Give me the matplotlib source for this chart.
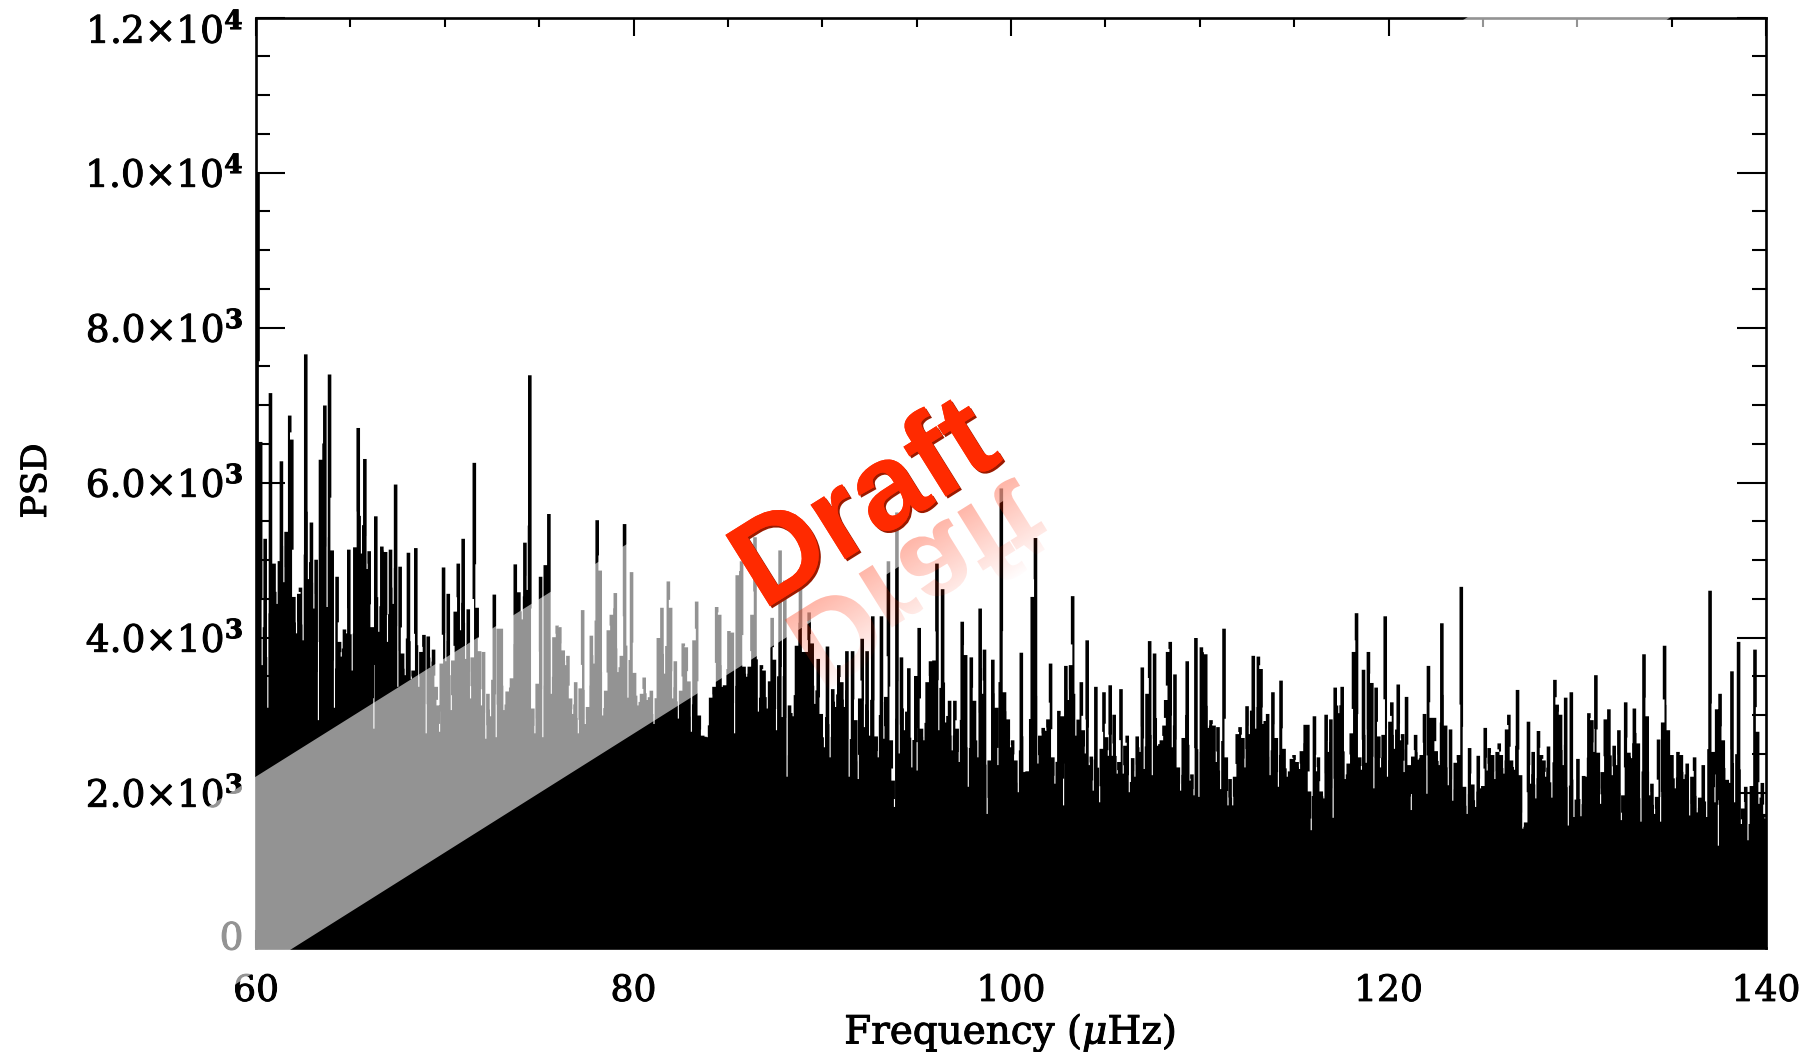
#--------------------------------- LIBRARY ---------------------------------
import numpy as np
import matplotlib
matplotlib.use('Agg')
import matplotlib.pyplot as plt
import matplotlib.patheffects as pe
from matplotlib.font_manager import FontProperties
from matplotlib.patches import PathPatch, Polygon
from matplotlib.textpath import TextPath
from matplotlib.transforms import Affine2D, ScaledTranslation

plt.rcParams['font.family'] = ['DejaVu Serif']
plt.rcParams['mathtext.fontset'] = 'dejavuserif'

#--------------------------------- DATA --------------
freq_1 = [60.08,60.22,60.30,60.46,60.60,60.74,60.93,61.09,61.32,61.45,61.57,61.76,61.87,61.98,62.12,62.24,62.33,62.47,62.61,62.75,
          62.91,63.04,63.16,63.28,63.39,63.62,63.74,63.87,64.01,64.13,64.27,64.40,64.49,64.66,64.77,64.89,65.07,65.21,65.39,65.56,
          65.74,65.86,65.97,66.13,66.22,66.32,66.48,66.64,66.84,66.94,67.10,67.24,67.37,67.49,67.61,67.74,67.88,68.05,68.20,68.30,
          68.44,68.60,68.71,68.87,68.99,69.10,69.24,69.38,69.52,69.63,69.70,69.79,69.91,70.03,70.16,70.32,70.40,70.53,70.69,70.81,
          70.95,71.08,71.22,71.34,71.43,71.54,71.69,71.82,71.92,72.03,72.15,72.26,72.40,72.60,72.70,72.81,72.97,73.11,73.28]
psd_1 = [10000,6530,3650,5280,3100,7160,4960,4440,6280,4720,5370,6870,6560,4530,4060,4570,4650,3970,7660,4760,
         5490,4380,5010,2940,6300,7000,4400,7400,5130,3100,4790,3950,3760,4110,4060,5140,3580,5170,6710,5090,
         6310,4890,5120,4140,2830,5570,4080,5180,5110,3950,5140,4440,5980,3370,4920,3800,3520,5100,3470,3580,
         5160,3370,3820,4040,2770,4020,3630,3850,3370,3130,2790,3670,4910,3700,4570,3070,3710,4340,4960,4100,
         5280,3730,4370,3220,3750,6260,4390,3830,3130,3820,2700,3280,2990,4560,2720,4120,4120,3070,3310]

freq_2 = [73.51,73.71,73.90,74.08,74.22,74.34,74.48,74.64,74.75,74.87,75.05,75.17,75.30,75.49,75.62,75.76,75.93,76.07,76.25,76.38,
          76.50,76.64,76.75,76.91,77.05,77.15,77.28,77.42,77.54,77.74,77.88,78.05,78.21,78.34,78.50,78.64,78.80,79.01,79.15,79.33,
          79.50,79.68,79.87,80.03,80.21,80.40,80.54,80.70,80.92,81.06,81.29,81.48,81.62,81.82,81.94,82.05,82.19,82.35,82.47,82.61,
          82.77,82.91,83.04,83.18,83.32,83.46,83.64,83.88,84.06,84.24,84.38,84.54,84.68,84.80,85.03,85.21,85.33,85.47,85.70,85.83,
          85.97,86.11,86.25,86.41,86.59,86.75,86.89,87.06]
psd_2 = [3480,4950,4590,4240,5230,4620,7390,3090,2770,3410,4790,2720,4940,5600,3280,4010,4160,4140,3840,3650,
         3770,3220,3020,3430,2770,3350,4360,2890,3110,4030,3670,5520,4870,3000,3320,4100,4300,4580,3560,3770,
         5470,3230,4850,3550,3130,3280,3490,3200,3320,2890,4000,4390,3540,4730,4390,3220,3700,2960,3320,3930,
         3880,3440,2790,3970,4470,3000,2740,2720,3230,3370,4400,4300,3370,3390,4090,4070,2770,4810,4990,3630,
         3500,3630,4300,5300,3050,3650,3580,3090]

freq_3 = [87.32,87.44,87.55,87.74,87.85,87.99,88.11,88.24,88.43,88.61,88.82,88.99,89.12,89.28,89.44,89.58,89.76,89.92,90.09,90.25,
          90.39,90.53,90.68,90.85,91.01,91.15,91.28,91.40,91.58,91.75,91.88,91.96,92.09,92.21,92.35,92.48,92.65,92.83,92.94,93.11,
          93.24,93.34,93.48,93.63,93.73,93.80,93.93,94.05,94.17,94.33,94.56,94.72,94.93,95.00,95.11,95.23,95.36,95.53,95.71,95.89,
          96.05,96.15,96.35,96.51,96.72,96.86,97.00,97.12,97.23,97.39,97.57,97.71,97.87,98.04,98.22,98.34,98.47,98.57,98.71,98.82,
          99.01,99.21,99.28,99.46,99.63,99.83,99.95,100.06,100.23,100.36,100.52,100.66,100.83]
psd_3 = [4260,3720,2810,5130,2980,4740,2210,3130,2990,3900,4890,3820,3820,4330,3930,3150,3730,3020,2590,3890,
         2460,3340,3110,3650,3430,3110,3830,2210,3830,2940,2180,3220,3990,2850,3830,2740,4280,2730,2460,4280,
         2700,3240,4990,2680,2160,1820,5620,2510,3750,2810,3610,2330,3510,2290,4130,2830,2680,3430,3700,3710,
         4960,2810,4630,2910,3190,2550,3190,2830,2400,4210,3780,2080,3750,3190,2460,4380,3280,3850,1730,2420,
         3720,3100,2360,5930,3300,2950,2590,2680,2420,2010,3810,2270,2280]

freq_4 = [101.10,101.27,101.40,101.50,101.68,101.82,101.93,102.07,102.19,102.30,102.51,102.69,102.76,102.88,103.01,103.13,103.24,103.41,103.70,103.80,
          103.91,104.01,104.12,104.23,104.33,104.47,104.67,104.76,104.90,105.04,105.13,105.23,105.34,105.44,105.60,105.69,105.80,105.92,106.01,106.13,
          106.24,106.42,106.54,106.66,106.81,106.93,107.03,107.18,107.32,107.46,107.58,107.74,107.94,108.08,108.17,108.27,108.41,108.52,108.66,108.84,
          108.96,109.10,109.31,109.46,109.56,109.67,109.77,109.93,110.06,110.29,110.43,110.57,110.73,110.85,110.94,111.08,111.26,111.38,111.47,111.58,
          111.72,111.82,111.96,112.11,112.26,112.37,112.48,112.60,112.81,112.94,113.08,113.22,113.32,113.57,113.70,113.85,114.03,114.14,114.28,114.44,114.61]
psd_4 = [4530,5290,2380,2740,2840,2800,2950,3670,2460,2120,3060,2990,1840,3640,3200,3650,4540,2740,3430,2810,
         2510,3970,2360,2470,2030,3370,1880,2570,3300,2720,2480,3390,2480,3010,2250,2400,3340,2250,2610,2740,
         2010,2450,2210,2730,2530,3620,2310,3280,3960,2230,3800,2610,2680,2870,3200,3820,3950,2590,3530,2330,
         2030,2710,3700,2160,2240,1970,4000,1950,3880,3790,2840,2940,2870,2400,2850,2050,4120,2460,1840,2180,
         1840,2210,2760,2850,2710,2330,3120,2760,3770,2830,3760,3600,2890,3020,2230,3300,2710,2080,3450,2570,2210]

freq_5 = [114.83,114.97,115.13,115.26,115.36,115.56,115.70,115.79,115.88,116.05,116.16,116.26,116.41,116.55,116.67,116.79,116.92,117.04,117.15,117.34,
          117.52,117.68,117.84,118.00,118.12,118.28,118.45,118.54,118.65,118.79,118.91,119.09,119.20,119.32,119.46,119.55,119.69,119.80,119.92,120.05,
          120.15,120.29,120.49,120.61,120.72,120.80,120.93,121.07,121.18,121.26,121.41,121.55,121.71,121.88,122.01,122.09,122.24,122.41,122.50,122.66,
          122.80,123.00,123.14,123.26,123.38,123.51,123.68,123.83,124.00,124.14,124.27,124.44,124.59,124.73,124.85,124.97,125.10,125.20,125.31,125.49,
          125.61,125.73,125.84,125.95,126.09,126.23,126.35,126.49,126.65,126.81,126.97,127.09,127.24,127.39]
psd_5 = [2440,2490,2400,2310,2540,2880,2880,2020,1520,2990,2280,2460,2020,1930,3010,2530,2950,1680,3360,3030,
         3370,2180,2380,2770,3820,4320,2460,2300,3590,2390,3820,3420,2060,3360,2730,2330,2750,4280,2210,2920,
         3170,2570,3400,2680,2760,2270,3240,2360,1780,2470,2750,2430,2490,3020,1990,3640,2970,2970,2540,2360,
         4190,2870,2100,2820,1900,2390,2490,4660,2080,1730,2580,2110,1820,2480,2060,2090,2840,2290,2580,2490,
         2180,2530,2640,2490,2250,2820,3010,2420,2300,3330,2230,1540,1620,2920]

freq_6 = [127.50,127.64,127.78,127.92,128.08,128.21,128.30,128.45,128.63,128.79,128.91,129.09,129.23,129.36,129.50,129.66,129.80,130.01,130.17,130.31,
          130.45,130.59,130.75,130.86,130.96,131.09,131.21,131.30,131.46,131.65,131.83,131.93,132.06,132.18,132.31,132.39,132.54,132.71,132.85,133.00,
          133.21,133.35,133.51,133.68,133.81,133.93,134.07,134.18,134.28,134.39,134.50,134.60,134.80,134.99,135.17,135.31,135.49,135.63,135.80,135.93,
          136.05,136.19,136.33,136.46,136.65,136.83,137.01,137.18,137.27,137.36,137.45,137.54,137.71,137.92,138.05,138.17,138.31,138.52,138.67,138.74,
          138.90,139.02,139.20,139.39,139.53,139.60,139.78,139.92,139.99]
psd_6 = [2120,2530,1930,2800,2490,2420,2210,2600,1940,3460,3140,3010,2360,3230,1580,3300,1690,2440,1700,2220,
         2210,3030,2940,2530,3520,2520,1860,2270,2950,3080,2230,2610,2360,2810,1650,1970,3170,2520,2450,3090,
         2640,1630,3790,2990,1970,2120,1730,1950,2690,1630,2910,3900,2810,2490,2060,2530,2490,2180,2380,1710,
         2210,2460,1750,1940,2360,1690,4610,2530,1880,3080,1320,3280,2680,2170,2130,3570,1880,3950,1600,1800,
         2080,1390,2090,3850,2790,1860,2130,1730,1670]

freq = np.array(freq_1 + freq_2 + freq_3 + freq_4 + freq_5 + freq_6)
psd = np.array(psd_1 + psd_2 + psd_3 + psd_4 + psd_5 + psd_6, dtype=float)

x_ticks = [60, 80, 100, 120, 140]
y_ticks = [0, 2000, 4000, 6000, 8000, 10000, 12000]
y_labels = ['0', r'2.0$\times$10$^{\mathbf{3}}$', r'4.0$\times$10$^{\mathbf{3}}$', r'6.0$\times$10$^{\mathbf{3}}$',
            r'8.0$\times$10$^{\mathbf{3}}$', r'1.0$\times$10$^{\mathbf{4}}$', r'1.2$\times$10$^{\mathbf{4}}$']

#--------------------------------- FUNCTION --------------------------------
# spikes are about 3 px wide, the dips only 1 px, gaps sit just above the lower neighbour
def spectrum_outline(f, p, w_peak=0.095, w_dip=0.03, shoulder=0.3):
    xs, ys = [], []
    for i in range(len(f)):
        left = p[i - 1] if i > 0 else 0
        right = p[i + 1] if i < len(f) - 1 else 0
        w = w_dip if (p[i] < left and p[i] < right) else w_peak
        low, high = min(p[i], right), max(p[i], right)
        xs += [f[i] - w, f[i] + w]
        ys += [p[i], low + shoulder * (high - low)]
    return np.array(xs), np.array(ys)

#--------------------------------- MAIN ------------------------------------
W, H = 1816, 1052
fig = plt.figure(figsize=(W / 100, H / 100), dpi=100, facecolor='white')
ax = fig.add_axes([256 / W, 1 - 947.5 / H, 1510 / W, 930 / H])

xs, ys = spectrum_outline(freq, psd)
ax.fill_between(xs, ys, 0, step='post', color='black', lw=0)

ax.set_xlim(60, 140)
ax.set_ylim(0, 12000)
ax.set_xticks(x_ticks)
ax.set_xticks(np.arange(60, 141, 5), minor=True)
ax.set_yticks(y_ticks)
ax.set_yticks(np.arange(0, 12001, 500), minor=True)
ax.set_yticklabels(y_labels)

ax.tick_params(axis='x', which='major', direction='in', top=True, length=13, width=1.5, pad=19, labelsize=26)
ax.tick_params(axis='x', which='minor', direction='in', top=True, length=6.5, width=1.5)
ax.tick_params(axis='y', which='major', direction='in', right=True, length=21, width=1.5, pad=9, labelsize=27)
ax.tick_params(axis='y', which='minor', direction='in', right=True, length=10, width=1.5)
for s in ax.spines.values():
    s.set_linewidth(1.9)

# heavier strokes, the original font is a thick vector one
heavy = [pe.withStroke(linewidth=0.7, foreground='black')]
for lab in ax.get_xticklabels() + ax.get_yticklabels():
    lab.set_path_effects(heavy)

# the bottom and top y labels are pushed inward in the original
labels = ax.get_yticklabels()
labels[0].set_transform(labels[0].get_transform() + ScaledTranslation(0, 12 / 100, fig.dpi_scale_trans))
labels[-1].set_transform(labels[-1].get_transform() + ScaledTranslation(0, -11 / 100, fig.dpi_scale_trans))

fig.text(1010 / W, 1 - 1033 / H, r'Frequency ($\mu$Hz)', ha='center', va='center', fontsize=28, path_effects=heavy)
fig.text(36 / W, 1 - 481 / H, 'PSD', rotation=90, ha='center', va='center', fontsize=25, path_effects=heavy)

# overlay in picture pixels for the glare band and the Draft stamp
ov = fig.add_axes([0, 0, 1, 1], zorder=5)
ov.patch.set_alpha(0)
ov.axis('off')

band = Polygon([(0, 937), (1479, 10), (1680, 10), (1100, 440), (128, 1052), (0, 1052)],
               closed=True, fc='white', ec='none', alpha=0.58, zorder=1)
ov.add_patch(band)

# mirrored copy of the stamp, fading away from its baseline
fp = FontProperties(family='Liberation Sans', weight='bold')
angle = 32
base_x, base_y = 778, 624
mirror = TextPath((0, 0), 'Draft', size=120, prop=fp)
mirror = mirror.transformed(Affine2D().rotate_deg(-angle).translate(base_x, base_y))
clip = PathPatch(mirror, fc='none', ec='none', transform=ov.transData)
ov.add_patch(clip)
X, Y = np.meshgrid(np.arange(W) + 0.5, np.arange(H) + 0.5)
dist = (X - base_x) * np.sin(np.radians(angle)) + (Y - base_y) * np.cos(np.radians(angle))
fade = np.zeros((H, W, 4))
fade[..., 0] = 1.0
fade[..., 1] = 42 / 255
fade[..., 3] = 0.34 * np.clip(1 - dist / 90, 0, 1)
im = ov.imshow(fade, extent=(0, W, H, 0), aspect='auto', zorder=2, interpolation='bilinear')
im.set_clip_path(clip)

stamp = ov.text(884, 535, 'Draft', rotation=angle, rotation_mode='anchor', ha='center', va='baseline',
                color='#ff2a00', fontproperties=FontProperties(family='Liberation Sans', weight='bold', size=88), zorder=3)
stamp.set_path_effects([pe.withSimplePatchShadow(offset=(1.5, -1.5), shadow_rgbFace='#9a1a00', alpha=1.0), pe.Normal()])

ov.set_xlim(0, W)
ov.set_ylim(H, 0)

fig.savefig('out.png', dpi=100)
